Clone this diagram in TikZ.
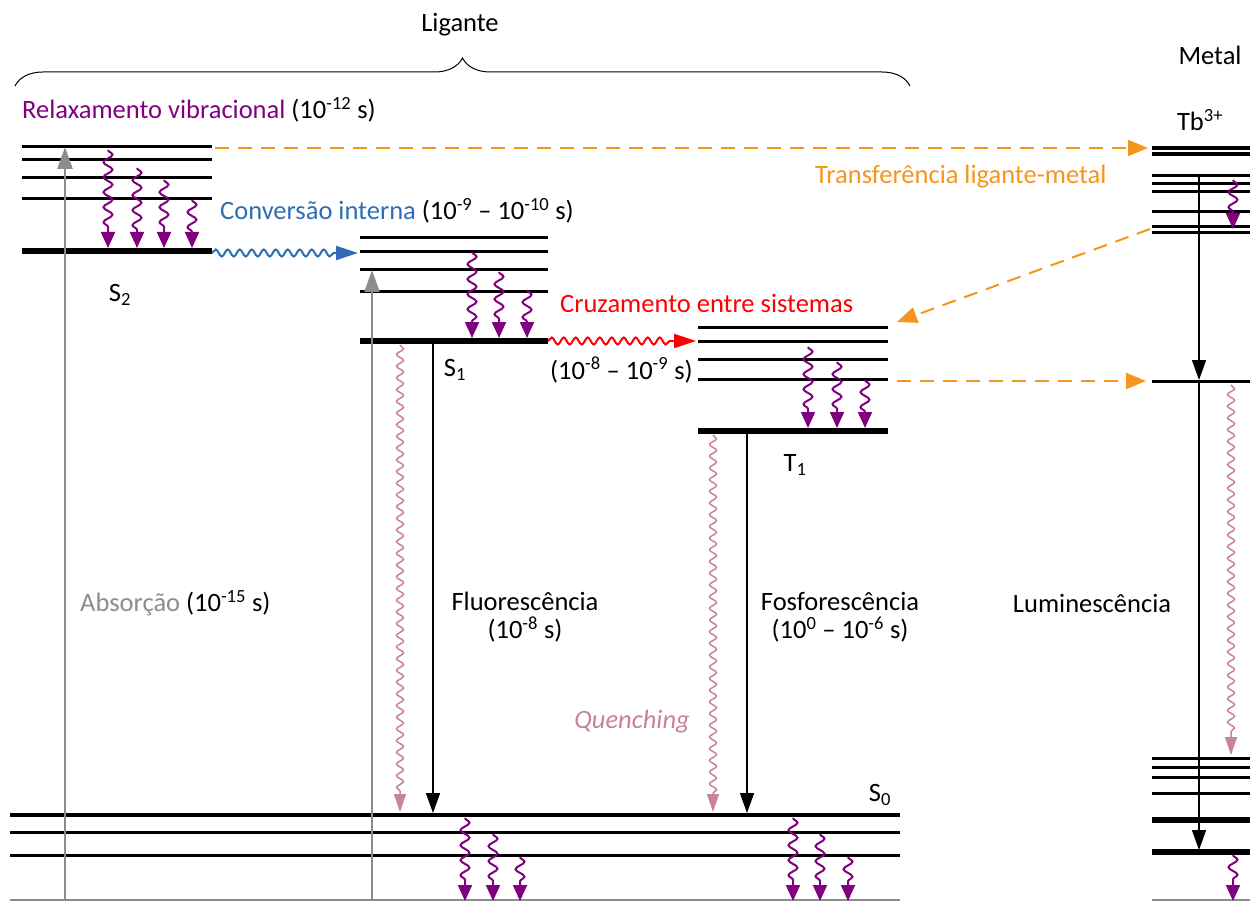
\documentclass[tikz,border=0pt]{standalone}
\usepackage{fontspec}
\setmainfont{Carlito}
\usetikzlibrary{arrows.meta}
\usetikzlibrary{decorations.pathmorphing}
\usetikzlibrary{decorations.pathreplacing}
\usetikzlibrary{positioning}

\definecolor{vibpurple}{RGB}{128,0,128}
\definecolor{icblue}{RGB}{46,109,180}
\definecolor{quenchpink}{RGB}{200,130,160}
\definecolor{transorange}{RGB}{247,148,29}
\definecolor{absgray}{RGB}{140,140,140}

\begin{document}
\begin{tikzpicture}[x=1pt, y=-1pt,
  every node/.style={font=\fontsize{26.5}{28}\selectfont, inner sep=0pt},
  lvl/.style={line width=3pt},
  lvlthick/.style={line width=6pt},
  vib/.style={vibpurple, line width=2pt, decorate,
    decoration={snake, amplitude=4.5pt, segment length=15pt, post length=15pt},
    -{Triangle[length=16pt, width=14pt]}},
  quench/.style={quenchpink, line width=1.5pt, decorate,
    decoration={snake, amplitude=3.5pt, segment length=11.7pt, post length=18pt},
    -{Triangle[length=18pt, width=12pt]}},
  emit/.style={line width=1.5pt, -{Triangle[length=20pt, width=14pt]}},
  absorb/.style={absgray, line width=2.5pt, -{Triangle[length=22pt, width=15pt]}},
  cross/.style={line width=2pt, decorate,
    decoration={snake, amplitude=3.5pt, segment length=12pt, post length=22pt},
    -{Triangle[length=22pt, width=14pt]}},
  transfer/.style={transorange, line width=2pt, dash pattern=on 14pt off 9pt,
    -{Triangle[length=20pt, width=16pt]}}
]
  \useasboundingbox (0,0) rectangle (1250,901);

  % ligand levels
  \foreach \y in {147,160,178,199} \draw[lvl] (22,\y) -- (212,\y);
  \draw[lvlthick] (22,251) -- (212,251);
  \foreach \y in {238,252,270,292} \draw[lvl] (360,\y) -- (548,\y);
  \draw[lvlthick] (360,341) -- (548,341);
  \foreach \y in {327,341,359,379} \draw[lvl] (698,\y) -- (888,\y);
  \draw[lvlthick] (698,431) -- (888,431);
  \draw[line width=4pt] (10,815) -- (900,815);
  \foreach \y in {832,855} \draw[lvl] (10,\y) -- (900,\y);
  \draw[absgray, line width=1.5pt] (10,900) -- (900,900);

  % metal levels
  \foreach \y in {148,154} \draw[line width=4pt] (1152,\y) -- (1250,\y);
  \foreach \y in {176,184,192,212,227,233,381,758,767,777,793}
    \draw[lvl] (1152,\y) -- (1250,\y);
  \foreach \y in {820,852} \draw[lvlthick] (1152,\y) -- (1250,\y);
  \draw[absgray, line width=1.5pt] (1152,900) -- (1250,900);

  % vibrational relaxation
  \foreach \x/\y in {108/150,137/168,164/180,192/200} \draw[vib] (\x,\y) -- (\x,248);
  \foreach \x/\y in {472/252,499/272,527/290} \draw[vib] (\x,\y) -- (\x,338);
  \foreach \x/\y in {808/347,837/362,865/380} \draw[vib] (\x,\y) -- (\x,428);
  \foreach \x/\y in {465/818,493/834,520/857,793/818,820/834,848/857}
    \draw[vib] (\x,\y) -- (\x,901);
  \draw[vib] (1233,180) -- (1233,229);
  \draw[vib] (1233,855) -- (1233,901);

  % named ends of the transitions
  \coordinate (abs1a) at (65,901);   \coordinate (abs1b) at (65,147);
  \coordinate (abs2a) at (372,901);  \coordinate (abs2b) at (372,270);
  \coordinate (s2out) at (212,253);  \coordinate (s1in) at (358,253);
  \coordinate (s1out) at (548,341);  \coordinate (t1in) at (696,341);
  \coordinate (flA) at (433,341);    \coordinate (flB) at (433,813);
  \coordinate (qA) at (400,345);     \coordinate (qB) at (400,812);
  \coordinate (phA) at (747,431);    \coordinate (phB) at (747,813);
  \coordinate (qC) at (713,435);     \coordinate (qD) at (713,812);
  \coordinate (tbA) at (1199,176);   \coordinate (tbB) at (1199,380);
  \coordinate (tbC) at (1199,383);   \coordinate (tbD) at (1199,850);
  \coordinate (qE) at (1231,385);    \coordinate (qF) at (1231,755);
  \coordinate (trA) at (215,148);    \coordinate (trB) at (1148,148);
  \coordinate (trC) at (1150,229);   \coordinate (trD) at (897,322);
  \coordinate (trE) at (897,381);    \coordinate (trF) at (1146,381);

  \draw[absorb] (abs1a) -- (abs1b);
  \draw[absorb] (abs2a) -- (abs2b);
  \draw[cross, icblue] (s2out) -- (s1in);
  \draw[cross, red] (s1out) -- (t1in);
  \draw[emit] (flA) -- (flB);
  \draw[quench] (qA) -- (qB);
  \draw[emit] (phA) -- (phB);
  \draw[quench] (qC) -- (qD);
  \draw[emit] (tbA) -- (tbB);
  \draw[emit] (tbC) -- (tbD);
  \draw[quench] (qE) -- (qF);
  \draw[transfer] (trA) -- (trB);
  \draw[transfer] (trC) -- (trD);
  \draw[transfer] (trE) -- (trF);

  % brace over the ligand
  \draw[line width=1pt, decorate, decoration={brace, amplitude=28pt}] (15,86) -- (910,86);

  \node (ligante) at (460,25) {Ligante};
  \node (metal) at (1210,55) {Metal};
  \node[anchor=west] (relax) at (22,110) {\textcolor{vibpurple}{Relaxamento vibracional} (10\textsuperscript{-12} s)};
  \node (tb) at (1200,120) {Tb\textsuperscript{3+}};
  \node[anchor=west, text=transorange] (transf) at (815,177) {Transferência ligante-metal};
  \node[anchor=west] (conv) at (220,211) {\textcolor{icblue}{Conversão interna} (10\textsuperscript{-9} – 10\textsuperscript{-10} s)};
  \node (s2) at (120,295) {S\textsubscript{2}};
  \node[anchor=west, text=red] (cruz) at (560,303) {Cruzamento entre sistemas};
  \node (s1) at (455,370) {S\textsubscript{1}};
  \node[anchor=west] (cruzt) at (550,370) {(10\textsuperscript{-8} – 10\textsuperscript{-9} s)};
  \node (t1) at (795,465) {T\textsubscript{1}};
  \node[anchor=west] (absl) at (80,603) {\textcolor{absgray}{Absorção} (10\textsuperscript{-15} s)};
  \node[align=center] (fluor) at (525,617) {Fluorescência\\(10\textsuperscript{-8} s)};
  \node[align=center] (fosf) at (840,617) {Fosforescência\\(10\textsuperscript{0} – 10\textsuperscript{-6} s)};
  \node (lum) at (1092,603) {Luminescência};
  \node[anchor=east, text=quenchpink, font=\fontsize{26.5}{28}\selectfont\itshape] (quenchl) at (690,722) {Quenching};
  \node (s0) at (880,795) {S\textsubscript{0}};
\end{tikzpicture}
\end{document}
